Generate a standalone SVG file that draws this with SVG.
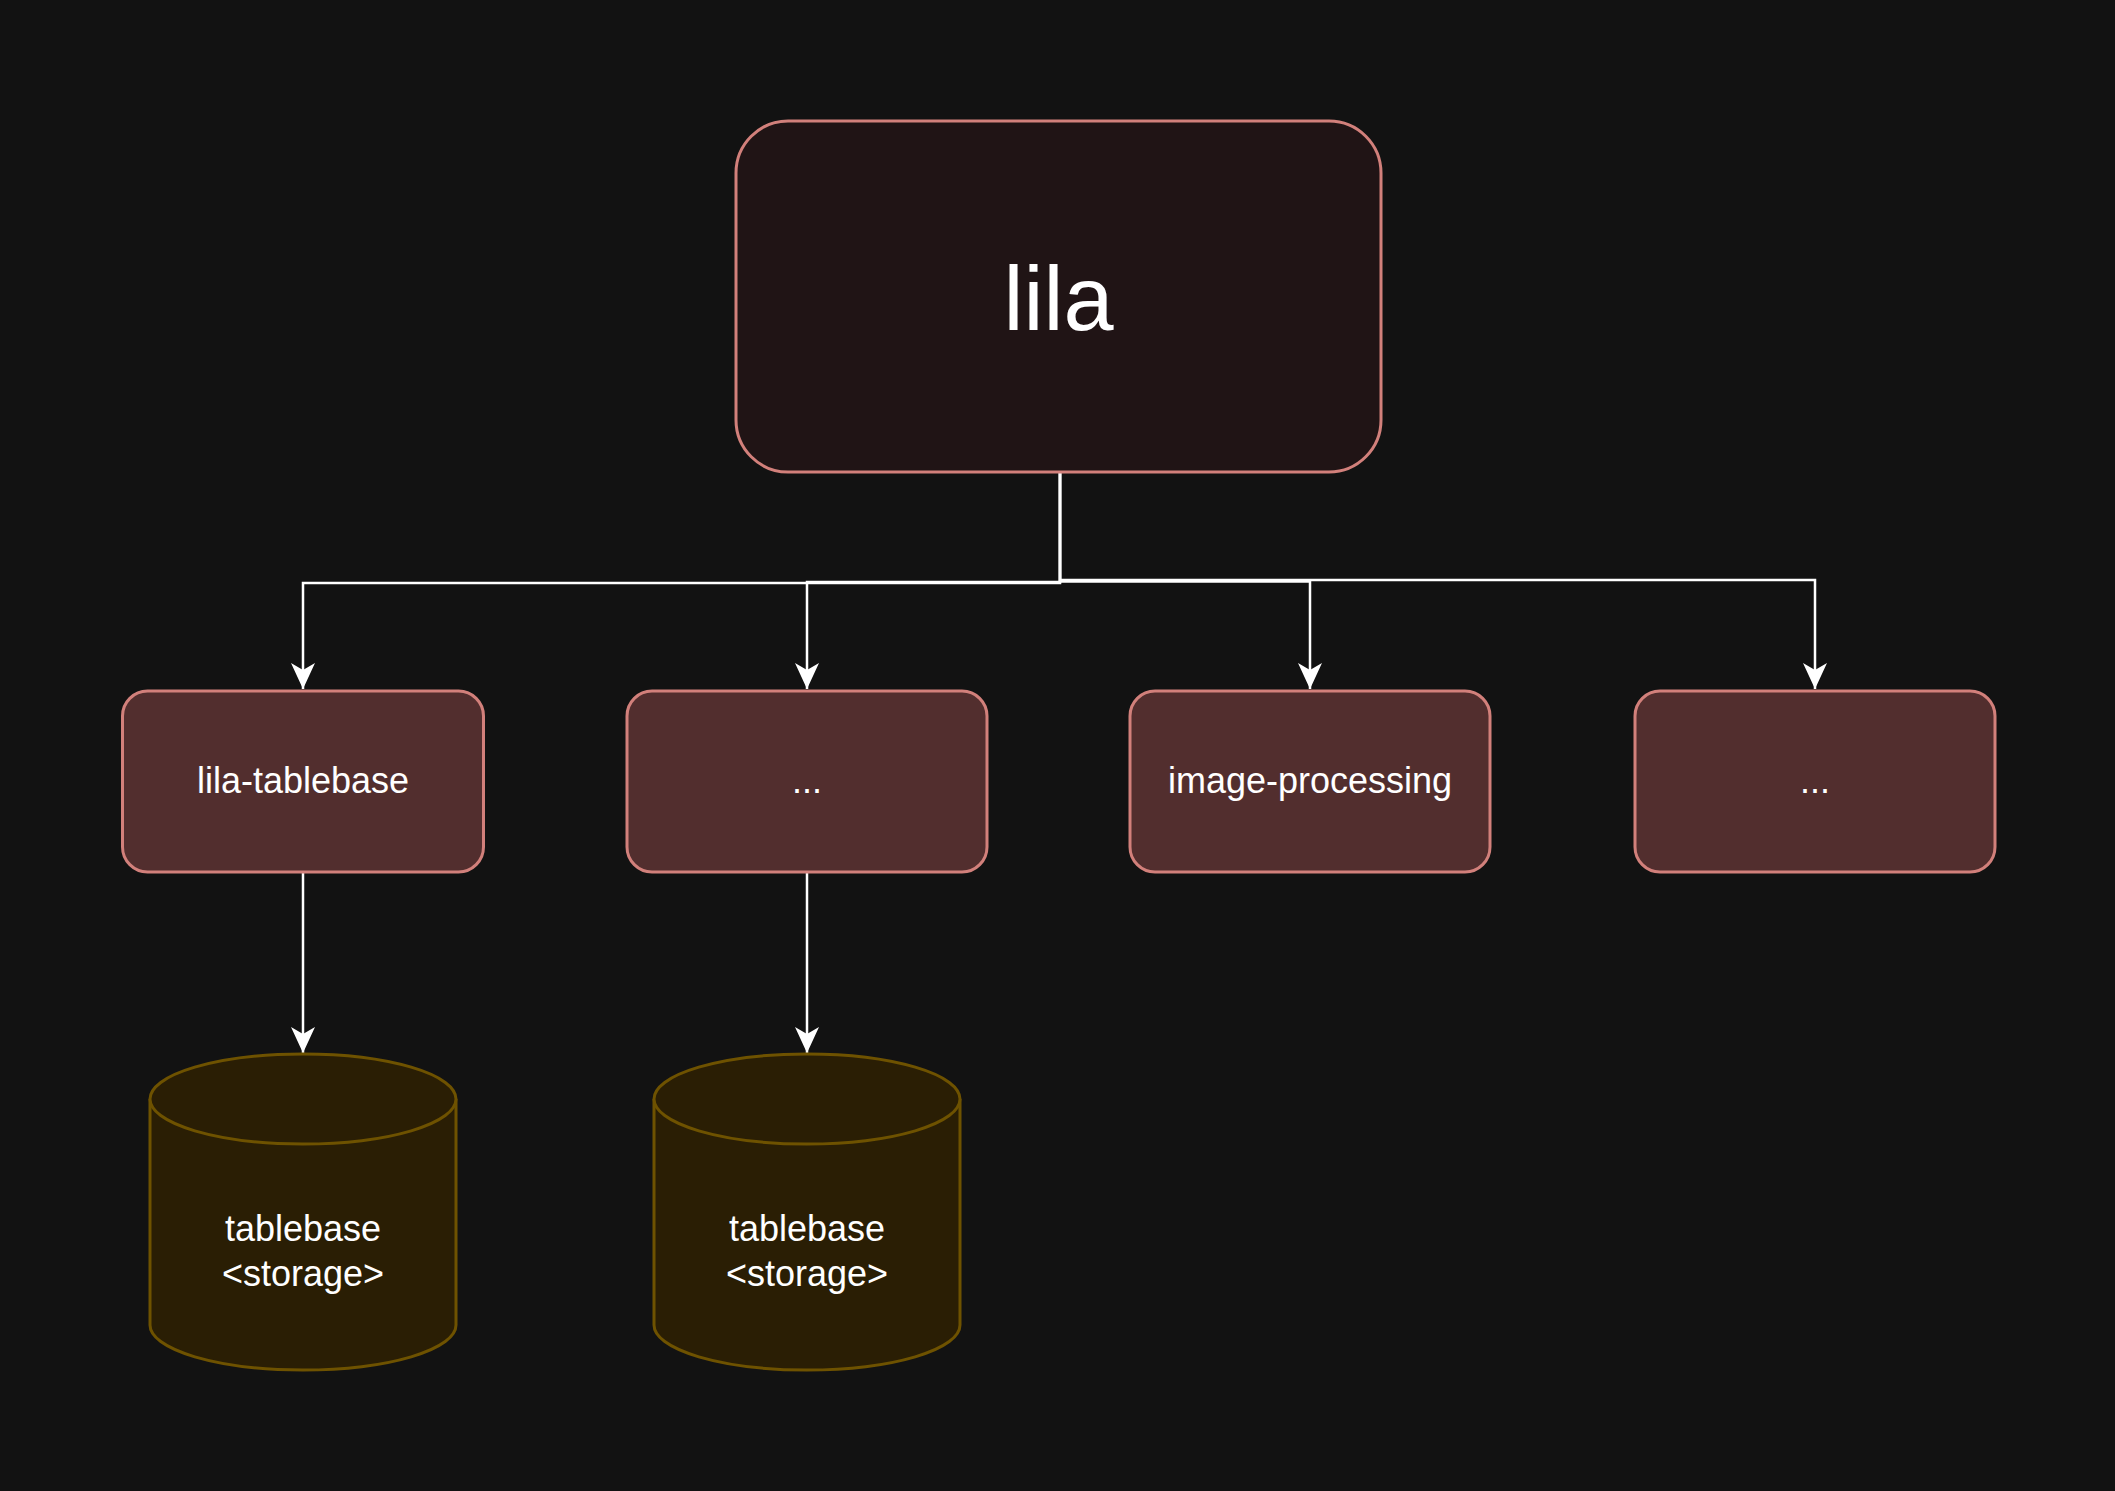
<svg xmlns="http://www.w3.org/2000/svg" width="2115" height="1491" viewBox="0 0 2115 1491">
<defs>
<style>
.main{fill:#201415;stroke:#d2807b;stroke-width:3}
.child{fill:#522e2e;stroke:#d2807b;stroke-width:3}
.cyl{fill:#2a1e04;stroke:#6e5200;stroke-width:3}
.t{font-family:"Liberation Sans",Arial,Helvetica,sans-serif;fill:#ffffff;text-anchor:middle}
.edge{fill:none;stroke:#ffffff;stroke-width:2.5}
</style>
<marker id="arr" viewBox="0 0 26 24" refX="26" refY="12" markerWidth="26" markerHeight="24" markerUnits="userSpaceOnUse" orient="auto">
<path d="M0,0 L26,12 L0,24 L7,12 Z" fill="#ffffff"/>
</marker>
</defs>
<rect width="2115" height="1491" fill="#121212"/>
<g id="connectors">
<path class="edge" d="M1060,472 V583 H303 V689" marker-end="url(#arr)"/>
<path class="edge" d="M1060,472 V582 H807 V689" marker-end="url(#arr)"/>
<path class="edge" d="M1060,472 V581.5 H1310 V689" marker-end="url(#arr)"/>
<path class="edge" d="M1060,472 V580 H1815 V689" marker-end="url(#arr)"/>
<path class="edge" d="M303,872 V1053" marker-end="url(#arr)"/>
<path class="edge" d="M807,872 V1053" marker-end="url(#arr)"/>
</g>
<g id="lila">
<rect class="main" x="736" y="121" width="645" height="351" rx="52" ry="52"/>
<text class="t" x="1058.5" y="330" font-size="90">lila</text>
</g>
<g id="lila-tablebase">
<rect class="child" x="122.5" y="691" width="361" height="181" rx="25" ry="25"/>
<text class="t" x="303" y="793" font-size="36">lila-tablebase</text>
</g>
<g id="dots1">
<rect class="child" x="627" y="691" width="360" height="181" rx="25" ry="25"/>
<text class="t" x="807" y="793" font-size="36">...</text>
</g>
<g id="image-processing">
<rect class="child" x="1130" y="691" width="360" height="181" rx="25" ry="25"/>
<text class="t" x="1310" y="793" font-size="36">image-processing</text>
</g>
<g id="dots2">
<rect class="child" x="1635" y="691" width="360" height="181" rx="25" ry="25"/>
<text class="t" x="1815" y="793" font-size="36">...</text>
</g>
<g id="storage1">
<path class="cyl" d="M150,1099 A153,45 0 0 1 456,1099 V1325 A153,45 0 0 1 150,1325 Z"/>
<path class="cyl" d="M150,1099 A153,45 0 0 0 456,1099" fill="none"/>
<text class="t" x="303" y="1241" font-size="36">tablebase</text>
<text class="t" x="303" y="1286" font-size="36">&lt;storage&gt;</text>
</g>
<g id="storage2">
<path class="cyl" d="M654,1099 A153,45 0 0 1 960,1099 V1325 A153,45 0 0 1 654,1325 Z"/>
<path class="cyl" d="M654,1099 A153,45 0 0 0 960,1099" fill="none"/>
<text class="t" x="807" y="1241" font-size="36">tablebase</text>
<text class="t" x="807" y="1286" font-size="36">&lt;storage&gt;</text>
</g>
</svg>
